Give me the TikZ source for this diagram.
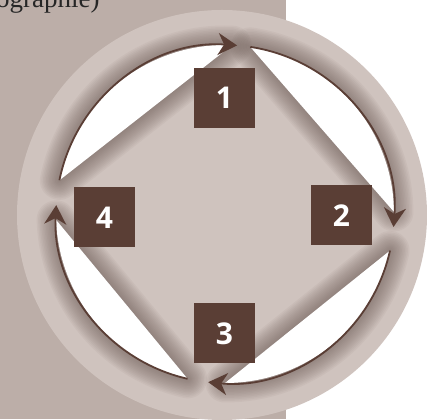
\documentclass[tikz,border=0pt]{standalone}
\usepackage{fontspec}
\setsansfont{Open Sans}
\newfontfamily\serifcut{Liberation Serif}
\usetikzlibrary{arrows.meta,calc}
\definecolor{bgtaupe}{HTML}{BCAEA8}
\definecolor{ringgray}{HTML}{CFC3BE}
\definecolor{brownd}{HTML}{5A3E35}
\definecolor{shadowc}{HTML}{6A5953}
\tikzset{
  numbox/.style={fill=brownd, minimum width=61pt, minimum height=60pt, inner sep=0pt,
    text=white, font=\sffamily\bfseries\fontsize{30}{30}\selectfont},
  cyclearc/.style={draw=brownd, line width=1.8pt,
    -{Stealth[length=19pt,width=22pt,inset=6pt]}},
  seg/.style={fill=white},
  segshadow/.style={draw=shadowc, opacity=0.06, line join=round},
}
\begin{document}
\begin{tikzpicture}[x=1pt,y=1pt]
\clip (0,0) rectangle (427,419);
\fill[bgtaupe] (0,0) rectangle (286,419);
\fill[ringgray] (222,204) circle[radius=205];
\coordinate (C) at (225,205);
% soft shadows round the white segments
\foreach \w in {3,6,...,39} {
  \foreach \a/\b in {168.5/87.6, 81.4/0.7, -12.5/-90, -102.8/-178} {
    \draw[segshadow, line width=\w pt] ($(C)+(\a:169)$) arc[start angle=\a, end angle=\b, radius=169] -- cycle;
  }
}
% white segments
\foreach \a/\b in {168.5/87.6, 81.4/0.7, -12.5/-90, -102.8/-178} {
  \fill[seg] ($(C)+(\a:169)$) arc[start angle=\a, end angle=\b, radius=169] -- cycle;
}
% cycle arcs
\coordinate (s1) at ($(C)+(168.5:169)$);
\coordinate (s2) at ($(C)+(81.4:169)$);
\coordinate (s3) at ($(C)+(-12.5:169)$);
\coordinate (s4) at ($(C)+(-102.8:169)$);
\draw[cyclearc] (s1) arc[start angle=168.5, end angle=85.9, radius=169];
\draw[cyclearc] (s2) arc[start angle=81.4, end angle=-4.4, radius=169];
\draw[cyclearc] (s3) arc[start angle=-12.5, end angle=-95.7, radius=169];
\draw[cyclearc] (s4) arc[start angle=-102.8, end angle=-183, radius=169];
% numbered boxes
\node[numbox] (b1) at (224.5,321) {1};
\node[numbox] (b2) at (341.5,203.5) {2};
\node[numbox] (b3) at (224.5,85.5) {3};
\node[numbox] (b4) at (104.5,201.5) {4};
% caption, cut at the top edge as in the reference
\node[anchor=base west, inner sep=0pt, text=black!85,
  font=\serifcut\fontsize{27}{27}\selectfont] (cap) at (-4,411) {ographie)};
\end{tikzpicture}
\end{document}
